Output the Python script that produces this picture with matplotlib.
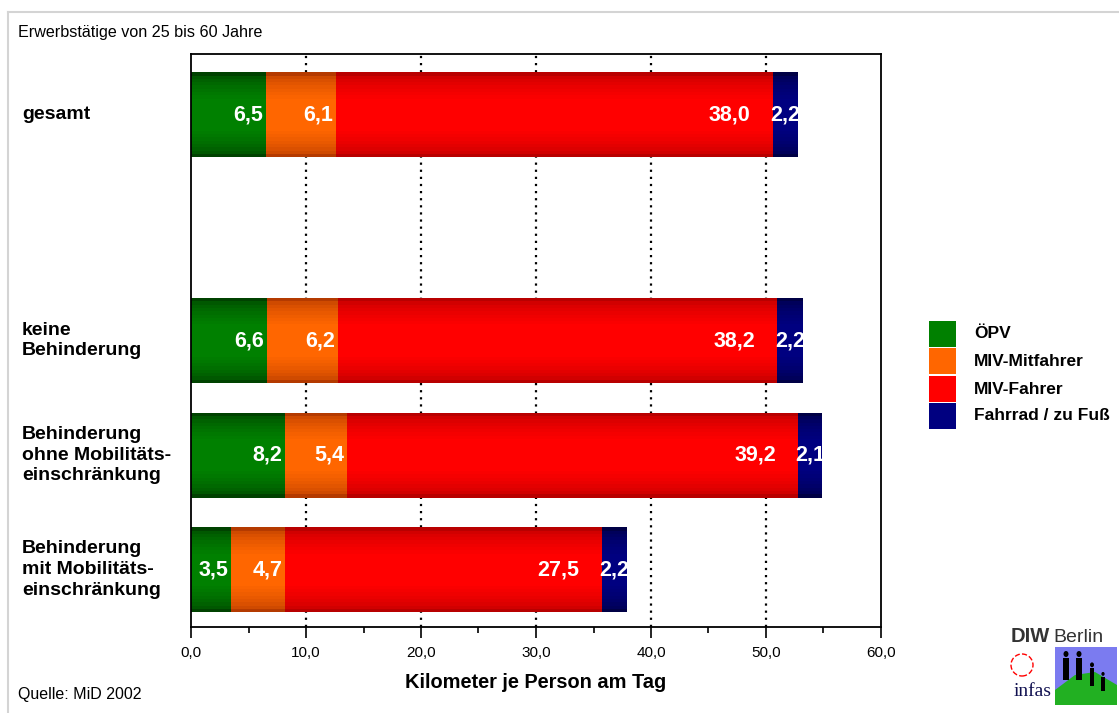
import matplotlib
matplotlib.use("Agg")
import matplotlib.pyplot as plt
from matplotlib import rcParams
from matplotlib.patches import Rectangle, Ellipse, Polygon
from matplotlib.lines import Line2D
from matplotlib.ticker import MultipleLocator, FuncFormatter
import numpy as np

rcParams['font.family'] = 'sans-serif'
rcParams['font.sans-serif'] = ['Liberation Sans', 'DejaVu Sans']

# data
categories = ["gesamt", "keine\nBehinderung",
              "Behinderung\nohne Mobilitäts-\neinschränkung",
              "Behinderung\nmit Mobilitäts-\neinschränkung"]
series_names = ["ÖPV", "MIV-Mitfahrer", "MIV-Fahrer", "Fahrrad / zu Fuß"]
oepv = [6.5, 6.6, 8.2, 3.5]
miv_mitfahrer = [6.1, 6.2, 5.4, 4.7]
miv_fahrer = [38.0, 38.2, 39.2, 27.5]
rad_fuss = [2.2, 2.2, 2.1, 2.2]

positions = [0.53, 2.5, 3.5, 4.5]
bar_h = 0.74

center_cols = ["#008000", "#ff6600", "#ff0000", "#000080"]
edge_cols = ["#004200", "#b43a00", "#b80000", "#000045"]

W, H = 1119, 713
fig = plt.figure(figsize=(W / 100, H / 100), dpi=100)
fig.patch.set_facecolor("white")

# outer light frame
fig.add_artist(Line2D([7.5 / W, 7.5 / W], [0, 1 - 12 / H], transform=fig.transFigure,
                      color="#d4d4d4", lw=1.5))
fig.add_artist(Line2D([7.5 / W, 1], [1 - 12 / H, 1 - 12 / H], transform=fig.transFigure,
                      color="#d4d4d4", lw=1.5))

ax = fig.add_axes([191 / W, 1 - 627 / H, 690 / W, 573 / H])
ax.set_xlim(0, 60)
ax.set_ylim(5, 0)

# dotted grid
for gx in range(10, 60, 10):
    ax.axvline(gx, color="black", lw=1.6, linestyle=(0, (1, 2.2)), zorder=1)


def mix(c1, c2, t):
    a = np.array(matplotlib.colors.to_rgb(c1))
    b = np.array(matplotlib.colors.to_rgb(c2))
    return tuple(a + (b - a) * t)


series = [oepv, miv_mitfahrer, miv_fahrer, rad_fuss]
left = np.zeros(len(categories))
n_layers = 9
for vals, cc, ec in zip(series, center_cols, edge_cols):
    vals = np.array(vals)
    for k in range(n_layers):
        t = k / (n_layers - 1)
        h = bar_h * (1 - 0.62 * t)
        col = mix(ec, cc, np.sqrt(t))
        ax.barh(positions, vals, height=h, left=left, color=col, lw=0, zorder=2)
    left = left + vals

# value labels
left = np.zeros(len(categories))
for si, vals in enumerate(series):
    for i, v in enumerate(vals):
        txt = f"{v:.1f}".replace(".", ",")
        end = left[i] + v
        kw = dict(va="center", color="white", fontsize=15.5, fontweight="bold", zorder=5)
        if si < 2:
            ax.annotate(txt, (end, positions[i]), xytext=(-2, 0), textcoords="offset points",
                        ha="right", **kw)
        elif si == 2:
            ax.annotate(txt, (end, positions[i]), xytext=(-16, 0), textcoords="offset points",
                        ha="right", **kw)
        else:
            ax.annotate(txt, (left[i] + v / 2, positions[i]), ha="center", **kw)
    left = left + np.array(vals)

ax.set_yticks([])
ax.xaxis.set_major_locator(MultipleLocator(10))
ax.xaxis.set_minor_locator(MultipleLocator(5))
ax.xaxis.set_major_formatter(FuncFormatter(lambda x, p: f"{x:.1f}".replace(".", ",")))
ax.tick_params(axis="x", which="major", length=8, width=1.2, labelsize=11, pad=6)
ax.tick_params(axis="x", which="minor", length=4, width=1.2)
for sp in ax.spines.values():
    sp.set_linewidth(1.3)
ax.set_xlabel("Kilometer je Person am Tag", fontsize=14.4, fontweight="bold", labelpad=9)

# category labels
for cat, pos in zip(categories, positions):
    ax.text(-169 / 11.5, pos, cat, ha="left", va="center", fontsize=14,
            fontweight="bold", linespacing=1.3)

fig.text(18 / W, 1 - 32 / H, "Erwerbstätige von 25 bis 60 Jahre", fontsize=11.6,
         ha="left", va="center")
fig.text(18 / W, 1 - 695 / H, "Quelle: MiD 2002", fontsize=11.5, ha="left", va="center")

# legend
ly = [321, 348, 376, 403]
for name, col, y in zip(series_names, center_cols, ly):
    fig.add_artist(Rectangle((929 / W, 1 - (y + 26) / H), 27 / W, 26 / H,
                             transform=fig.transFigure, color=col, lw=0))
    fig.text(974 / W, 1 - (y + 13) / H, name, fontsize=12.5, fontweight="bold",
             ha="left", va="center")

# logo (approximation)
fig.text(1011 / W, 1 - 637 / H, "DIW", fontsize=14.5, fontweight="bold", color="#333333",
         ha="left", va="center")
fig.text(1053 / W, 1 - 637 / H, "Berlin", fontsize=14, color="#333333",
         ha="left", va="center")
fig.add_artist(Rectangle((1055 / W, 1 - 705 / H), 62 / W, 58 / H, transform=fig.transFigure,
                         color="#7b7bf0", lw=0))
hill = Polygon([(1055 / W, 1 - 705 / H), (1055 / W, 1 - 690 / H), (1075 / W, 1 - 675 / H),
                (1095 / W, 1 - 672 / H), (1117 / W, 1 - 685 / H), (1117 / W, 1 - 705 / H)],
               closed=True, transform=fig.transFigure, color="#22b022", lw=0)
fig.add_artist(hill)
for px, py, s in [(1066, 668, 1.0), (1079, 668, 1.0), (1092, 676, 0.8), (1103, 683, 0.65)]:
    fig.add_artist(Ellipse((px / W, 1 - (py - 14 * s) / H), 5 * s / W, 6 * s / H,
                           transform=fig.transFigure, color="black", lw=0))
    fig.add_artist(Rectangle(((px - 3 * s) / W, 1 - (py + 12 * s) / H), 6 * s / W, 22 * s / H,
                             transform=fig.transFigure, color="black", lw=0))
fig.add_artist(Ellipse((1022 / W, 1 - 665 / H), 22 / W, 22 / H, transform=fig.transFigure,
                       fill=False, edgecolor="red", lw=1, linestyle="--"))
fig.text(1033 / W, 1 - 692 / H, "infas", fontsize=14, color="#101050",
         ha="center", va="center", family="Liberation Serif")

fig.savefig("out.png", dpi=100, facecolor="white")
